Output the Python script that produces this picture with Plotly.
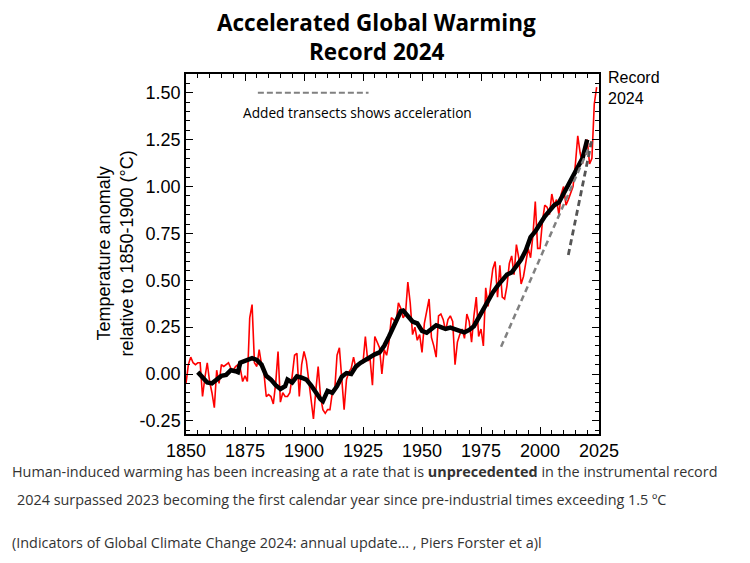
"""
Accelerated Global Warming - Record 2024
Annual global mean temperature anomaly (red), smoothed curve (black)
and two dashed transects showing acceleration.
"""

import plotly.graph_objects as go

# ── Data ───────────────────────────────────────────────────────
years = list(range(1850, 2025))
annual_anomaly = [
    -0.05, 0.05, 0.09, 0.06, 0.05, 0.06, 0.06, -0.12, -0.02, 0.06,    # 1850s
    -0.04, -0.10, -0.18, 0.02, -0.05, 0.05, 0.04, 0.05, 0.06, 0.03,   # 1860s
    0.02, 0.04, 0.05, 0.03, -0.04, -0.01, -0.04, 0.30, 0.37, 0.06,    # 1870s
    0.04, 0.13, 0.05, 0.01, -0.12, -0.11, -0.12, -0.16, -0.05, 0.12,  # 1880s
    -0.15, -0.10, -0.12, -0.12, -0.10, -0.01, 0.10, 0.11, -0.12, 0.05,  # 1890s
    0.12, 0.07, -0.04, -0.14, -0.24, -0.09, 0.04, -0.12, -0.19, -0.21,  # 1900s
    -0.19, -0.19, -0.10, -0.09, 0.10, 0.14, -0.03, -0.19, -0.03, 0.01,  # 1910s
    0.03, 0.09, 0.03, 0.04, 0.06, 0.06, 0.20, 0.07, 0.08, -0.06,      # 1920s
    0.20, 0.17, 0.14, 0.00, 0.13, 0.10, 0.17, 0.30, 0.29, 0.27,       # 1930s
    0.38, 0.35, 0.30, 0.32, 0.49, 0.38, 0.21, 0.25, 0.18, 0.21,       # 1940s
    0.115, 0.27, 0.34, 0.40, 0.195, 0.15, 0.09, 0.31, 0.32, 0.29,     # 1950s
    0.23, 0.29, 0.31, 0.28, 0.05, 0.17, 0.21, 0.24, 0.19, 0.32,       # 1960s
    0.28, 0.17, 0.31, 0.41, 0.20, 0.24, 0.15, 0.46, 0.36, 0.45,       # 1970s
    0.56, 0.60, 0.41, 0.58, 0.41, 0.40, 0.47, 0.59, 0.63, 0.53,       # 1980s
    0.69, 0.62, 0.48, 0.52, 0.59, 0.67, 0.62, 0.74, 0.92, 0.67,       # 1990s
    0.67, 0.81, 0.90, 0.89, 0.85, 0.96, 0.90, 0.93, 0.85, 0.96,       # 2000s
    1.00, 0.90, 0.93, 0.96, 1.00, 1.12, 1.27, 1.18, 1.12, 1.22,       # 2010s
    1.25, 1.12, 1.15, 1.44, 1.53,                                     # 2020s
]

smooth_years = [
    1855, 1857, 1859, 1861, 1863, 1865, 1867, 1869, 1871, 1872, 1873,
    1874, 1876, 1878, 1880, 1882, 1884, 1886, 1888, 1890, 1892, 1893,
    1895, 1897, 1899, 1901, 1903, 1905, 1907, 1908, 1910, 1912, 1914,
    1916, 1918, 1920, 1922, 1924, 1926, 1928, 1930, 1932, 1934, 1936,
    1938, 1940, 1941, 1942, 1944, 1946, 1948, 1950, 1952, 1954, 1956,
    1958, 1960, 1962, 1964, 1966, 1968, 1970, 1972, 1974, 1976, 1978,
    1980, 1982, 1984, 1986, 1988, 1990, 1992, 1994, 1996, 1998, 2000,
    2002, 2004, 2006, 2008, 2010, 2012, 2014, 2016, 2018, 2019, 2020,
]
smooth_anomaly = [
    0.01, -0.02, -0.045, -0.05, -0.03, -0.01, -0.005, 0.02, 0.015, 0.01, 0.06,
    0.065, 0.076, 0.085, 0.075, 0.05, -0.01, -0.03, -0.06, -0.08, -0.065, -0.03,
    -0.045, -0.013, -0.02, -0.03, -0.06, -0.10, -0.135, -0.145, -0.09, -0.10, -0.065,
    -0.015, 0.005, 0.0, 0.04, 0.06, 0.075, 0.095, 0.105, 0.115, 0.15, 0.20,
    0.255, 0.315, 0.335, 0.338, 0.305, 0.28, 0.27, 0.23, 0.22, 0.24, 0.26,
    0.25, 0.24, 0.247, 0.236, 0.23, 0.222, 0.235, 0.255, 0.30, 0.355, 0.396,
    0.435, 0.47, 0.505, 0.53, 0.542, 0.575, 0.61, 0.66, 0.73, 0.76, 0.805,
    0.84, 0.87, 0.90, 0.915, 0.96, 1.01, 1.058, 1.10, 1.15, 1.20, 1.25,
]

# Dashed transects (start / end)
transect_long_years = [1983.5, 2021.5]
transect_long_vals = [0.145, 1.23]
transect_short_years = [2012, 2022]
transect_short_vals = [0.635, 1.25]

x_ticks = [1850, 1875, 1900, 1925, 1950, 1975, 2000, 2025]
y_ticks = [-0.25, 0.0, 0.25, 0.50, 0.75, 1.00, 1.25, 1.50]

title_lines = ["Accelerated Global Warming", "Record 2024"]

ARIAL = "Liberation Sans, Arial, sans-serif"
TEXT_FONT = "Open Sans, sans-serif"
AXIS_FONT = dict(family=ARIAL, size=18, color="black")

fig = go.Figure()

fig.add_trace(go.Scatter(
    x=years, y=annual_anomaly, mode="lines",
    line=dict(color="#ff0000", width=1.6),
    showlegend=False,
))
fig.add_trace(go.Scatter(
    x=smooth_years, y=smooth_anomaly, mode="lines",
    line=dict(color="black", width=4.5),
    showlegend=False,
))
fig.add_trace(go.Scatter(
    x=transect_long_years, y=transect_long_vals, mode="lines",
    line=dict(color="#808080", width=2.5, dash="6px,4px"),
    showlegend=False,
))
fig.add_trace(go.Scatter(
    x=transect_short_years, y=transect_short_vals, mode="lines",
    line=dict(color="#555555", width=2.8, dash="6px,4px"),
    showlegend=False,
))

# ── Title (one annotation per line, for exact placement) ───────
for line_text, y_pos in zip(title_lines, [1.143, 1.0625]):
    fig.add_annotation(
        text=f"<b>{line_text}</b>",
        xref="paper", yref="paper", x=0.4624, y=y_pos,
        xanchor="center", yanchor="middle", showarrow=False, borderpad=0,
        font=dict(family=TEXT_FONT, size=22.5, color="black"),
    )

# ── Key for the transects ──────────────────────────────────────
fig.add_shape(
    type="line", xref="paper", yref="paper",
    x0=0.174, x1=0.442, y0=0.948, y1=0.948,
    line=dict(color="#808080", width=2, dash="6px,3px"),
)
fig.add_annotation(
    text="Added transects shows acceleration",
    xref="paper", yref="paper", x=0.416, y=0.894,
    xanchor="center", yanchor="middle", showarrow=False,
    font=dict(family=TEXT_FONT, size=13.7, color="black"),
)
fig.add_annotation(
    text="Record<br>2024",
    xref="paper", yref="paper", x=1.018, y=0.9625,
    xanchor="left", yanchor="middle", align="left", showarrow=False,
    font=dict(family=ARIAL, size=16, color="black"),
)

# y axis title as rotated text
fig.add_annotation(
    text="Temperature anomaly<br>relative to 1850-1900 (°C)",
    xref="paper", yref="paper", x=-0.173, y=0.5,
    xanchor="center", yanchor="middle", textangle=-90, showarrow=False,
    font=dict(family=ARIAL, size=18, color="black"),
)

# ── Footer text ────────────────────────────────────────────────
footer_font = dict(family=TEXT_FONT, size=14.4, color="#333333")
fig.add_annotation(
    text="Human-induced warming has been increasing at a rate that is "
         "<b>unprecedented</b> in the instrumental record",
    xref="paper", yref="paper", x=-0.425, y=-0.104,
    xanchor="left", yanchor="middle", showarrow=False, font=footer_font,
)
fig.add_annotation(
    text="2024 surpassed 2023 becoming the first calendar year since "
         "pre-industrial times exceeding 1.5 ºC",
    xref="paper", yref="paper", x=-0.413, y=-0.1815,
    xanchor="left", yanchor="middle", showarrow=False, font=footer_font,
)
fig.add_annotation(
    text="(Indicators of Global Climate Change 2024: annual update... , "
         "Piers Forster et a)l",
    xref="paper", yref="paper", x=-0.425, y=-0.301,
    xanchor="left", yanchor="middle", showarrow=False, font=footer_font,
)

# ── Layout ─────────────────────────────────────────────────────
fig.update_layout(
    width=750, height=563,
    paper_bgcolor="white", plot_bgcolor="white",
    margin=dict(l=178, r=159, t=66, b=137),
    showlegend=False,
)
fig.update_xaxes(
    range=[1850, 2025], tickvals=x_ticks, ticktext=[str(t) for t in x_ticks],
    showgrid=False, zeroline=False,
    showline=True, linecolor="black", linewidth=1.5, mirror="allticks",
    ticks="inside", ticklen=7, tickwidth=1.2, tickcolor="black",
    minor=dict(ticks="inside", dtick=5, tick0=1850, ticklen=4, tickwidth=1, tickcolor="black"),
    tickfont=AXIS_FONT,
)
fig.update_yaxes(
    range=[-0.32, 1.6], tickvals=y_ticks, ticktext=[f"{t:.2f}" for t in y_ticks],
    showgrid=False, zeroline=False,
    showline=True, linecolor="black", linewidth=1.5, mirror="allticks",
    ticks="inside", ticklen=7, tickwidth=1.2, tickcolor="black",
    minor=dict(ticks="inside", dtick=0.05, tick0=0, ticklen=4, tickwidth=1, tickcolor="black"),
    tickfont=AXIS_FONT,
)

fig.write_html("out.html")
